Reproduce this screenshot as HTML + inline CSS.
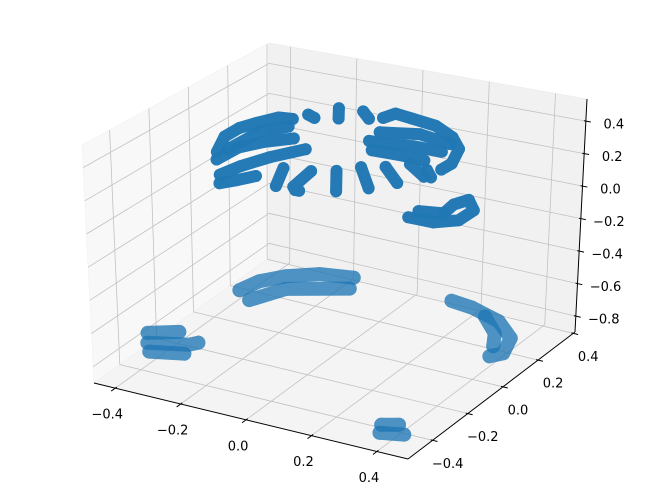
<!DOCTYPE html>
<html><head><meta charset="utf-8"><style>
html,body{margin:0;padding:0;background:#fff}
svg{display:block}
text{font-family:"DejaVu Sans","Liberation Sans",sans-serif;font-size:13px;fill:#000}
</style></head><body>
<svg id="chart" width="660" height="499" viewBox="0 0 660 499" xmlns="http://www.w3.org/2000/svg">
<rect width="660" height="499" fill="#fff"/>
<g id="panes"></g>
<g id="grid"></g>
<g id="axes"></g>
<g id="marks"></g>
</svg>
<script>
// ---- data ----
const xLim = [-0.465, 0.495];
const yLim = [-0.54, 0.41];
const zLim = [-0.898, 0.536];
const xTicks = [-0.4, -0.2, 0.0, 0.2, 0.4];
const yTicks = [-0.4, -0.2, 0.0, 0.2, 0.4];
const zTicks = [-0.8, -0.6, -0.4, -0.2, 0.0, 0.2, 0.4];
const xTickLabels = ["−0.4", "−0.2", "0.0", "0.2", "0.4"];
const yTickLabels = ["−0.4", "−0.2", "0.0", "0.2", "0.4"];
const zTickLabels = ["−0.8", "−0.6", "−0.4", "−0.2", "0.0", "0.2", "0.4"];
// point cloud, grouped into clusters (stroke ids)
const pointCluster = [
 0,0,0,0,0,0, 1,1, 2,2, 3,3, 4,4,4,4,4,4,4,4,
 5,5,5,5, 6,6,6, 7,7,7, 8,8,
 9,9,9,9, 10,10,10,10, 11,11,11, 12,12,12,
 13,13, 14,14,14,14, 15,15, 16,16, 17,17, 18,18,
 19,19,19,19,19,19,19, 20,20,
 21,21,21,21,21, 22,22,22,
 23,23, 24,24,24, 25,25,
 26,26, 27,27,
 28,28,28,28,28,28, 29,29,29
];
const pointX = [
 -0.343,-0.385,-0.385,-0.365,-0.336,-0.298, -0.280,-0.253, -0.234,-0.195, -0.166,-0.124,
 -0.095,-0.083,-0.028,0.056,0.140,0.200,0.239,0.238,
 -0.038,0.020,0.085,0.171, 0.004,0.097,0.164, -0.047,0.054,0.161, 0.206,0.244,
 -0.248,-0.234,-0.202,-0.151, -0.314,-0.311,-0.276,-0.220, -0.216,-0.191,-0.161, -0.328,-0.323,-0.278,
 -0.129,-0.077, -0.054,-0.035,-0.018,-0.006, 0.003,0.080, 0.045,0.143, 0.100,0.188, 0.145,0.225,
 0.183,0.259,0.310,0.309,0.259,0.241,0.250, 0.184,0.250,
 -0.392,-0.375,-0.330,-0.258,-0.166, -0.337,-0.288,-0.140,
 -0.465,-0.395, -0.433,-0.331,-0.316, -0.400,-0.313,
 0.367,0.408, 0.388,0.451,
 0.139,0.210,0.316,0.398,0.428,0.405, 0.268,0.345,0.382
];
const pointY = [
 -0.067,0.045,0.121,0.178,0.241,0.249, 0.298,0.284, 0.379,0.311, 0.389,0.347,
 0.371,0.416,0.404,0.386,0.330,0.260,0.154,0.101,
 0.200,0.205,0.221,0.220, 0.142,0.145,0.140, 0.271,0.309,0.282, 0.081,0.036,
 -0.215,-0.131,-0.035,0.064, -0.118,-0.010,0.057,0.121, -0.272,-0.234,-0.178, -0.035,0.120,0.193,
 -0.090,-0.219, -0.075,-0.201,-0.221,-0.221, -0.041,-0.177, 0.015,-0.116, 0.048,-0.044, 0.098,0.032,
 0.025,0.025,0.071,0.154,0.215,0.166,0.096, 0.078,0.096,
 0.123,0.202,0.267,0.325,0.351, 0.080,0.194,0.283,
 -0.247,-0.198, -0.304,-0.258,-0.234, -0.352,-0.316,
 -0.454,-0.429, -0.502,-0.479,
 0.352,0.341,0.299,0.219,0.122,0.086, 0.308,0.225,0.149
];
const pointZ = [
 0.22,0.22,0.22,0.22,0.22,0.22, 0.22,0.22, 0.22,0.22, 0.22,0.22,
 0.22,0.22,0.22,0.22,0.22,0.22,0.22,0.22,
 0.22,0.22,0.22,0.22, 0.22,0.22,0.22, 0.22,0.22,0.22, 0.22,0.22,
 0.22,0.22,0.22,0.22, 0.22,0.22,0.22,0.22, 0.22,0.22,0.22, 0.22,0.22,0.22,
 0.22,0.22, 0.22,0.22,0.22,0.22, 0.22,0.22, 0.22,0.22, 0.22,0.22, 0.22,0.22,
 -0.038,-0.038,-0.038,-0.038,-0.038,-0.038,-0.038, -0.038,-0.038,
 -0.826,-0.826,-0.826,-0.826,-0.826, -0.826,-0.826,-0.826,
 -0.826,-0.826, -0.826,-0.826,-0.826, -0.826,-0.826,
 -0.826,-0.826, -0.826,-0.826,
 -0.826,-0.826,-0.826,-0.826,-0.826,-0.826, -0.826,-0.826,-0.826
];

// ---- projection (box corners on screen) ----
const corners = {
 c000:[94,383], c100:[408,459], c010:[269,258], c110:[575,332],
 c001:[82,145], c101:[405,203], c011:[269,43], c111:[587,99]
};
function lerp(a,b,t){return [a[0]+(b[0]-a[0])*t, a[1]+(b[1]-a[1])*t];}
function proj(x,y,z){
  const u=(x-xLim[0])/(xLim[1]-xLim[0]);
  const v=(y-yLim[0])/(yLim[1]-yLim[0]);
  const w=(z-zLim[0])/(zLim[1]-zLim[0]);
  const c=corners;
  const b0=lerp(lerp(c.c000,c.c100,u),lerp(c.c010,c.c110,u),v);
  const b1=lerp(lerp(c.c001,c.c101,u),lerp(c.c011,c.c111,u),v);
  return lerp(b0,b1,w);
}
const NS="http://www.w3.org/2000/svg";
function mk(tag,attrs,parent){const e=document.createElementNS(NS,tag);for(const k in attrs)e.setAttribute(k,attrs[k]);parent.appendChild(e);return e;}
function pts(list){return list.map(p=>p[0].toFixed(1)+","+p[1].toFixed(1)).join(" ");}

// panes
const panes=document.getElementById('panes');
const X0=xLim[0],X1=xLim[1],Y0=yLim[0],Y1=yLim[1],Z0=zLim[0],Z1=zLim[1];
let el;
el=mk('polygon',{points:pts([proj(X0,Y0,Z0),proj(X0,Y1,Z0),proj(X0,Y1,Z1),proj(X0,Y0,Z1)]),fill:'#f8f8f8',stroke:'#f0f0f0','stroke-width':0.6},panes);


el=mk('polygon',{points:pts([proj(X0,Y1,Z0),proj(X1,Y1,Z0),proj(X1,Y1,Z1),proj(X0,Y1,Z1)]),fill:'#f1f1f1',stroke:'#ebebeb','stroke-width':0.6},panes);


el=mk('polygon',{points:pts([proj(X0,Y0,Z0),proj(X1,Y0,Z0),proj(X1,Y1,Z0),proj(X0,Y1,Z0)]),fill:'#f4f4f4',stroke:'#eeeeee','stroke-width':0.6},panes);



// grid
const grid=document.getElementById('grid');
const gs={stroke:'#c2c2c2','stroke-width':0.8,fill:'none'};
function gl(a,b,name){const e=mk('polyline',Object.assign({points:pts([a,b])},gs),grid);
  
  }
xTicks.forEach(t=>{gl(proj(t,Y0,Z0),proj(t,Y1,Z0),'x-grid-floor');gl(proj(t,Y1,Z0),proj(t,Y1,Z1),'x-grid-back');});
yTicks.forEach(t=>{gl(proj(X0,t,Z0),proj(X1,t,Z0),'y-grid-floor');gl(proj(X0,t,Z0),proj(X0,t,Z1),'y-grid-left');});
zTicks.forEach(t=>{gl(proj(X0,Y0,t),proj(X0,Y1,t),'z-grid-left');gl(proj(X0,Y1,t),proj(X1,Y1,t),'z-grid-back');});

// axes
const axes=document.getElementById('axes');
function axLine(a,b,name){const e=mk('polyline',{points:pts([a,b]),stroke:'#000','stroke-width':1,fill:'none'},axes);
  
  }
axLine(proj(X0,Y0,Z0),proj(X1,Y0,Z0),'x-axis-line');
axLine(proj(X1,Y0,Z0),proj(X1,Y1,Z0),'y-axis-line');
axLine(proj(X1,Y1,Z0),proj(X1,Y1,Z1),'z-axis-line');
function unit(a,b){const dx=b[0]-a[0],dy=b[1]-a[1],l=Math.hypot(dx,dy);return [dx/l,dy/l];}
function tick(p,d,name){const e=mk('line',{x1:p[0]-d[0]*2,y1:p[1]-d[1]*2,x2:p[0]+d[0]*5,y2:p[1]+d[1]*5,stroke:'#000','stroke-width':1},axes);
  
  }
function label(p,txt,name){const e=mk('text',{x:p[0],y:p[1],'text-anchor':'middle','dominant-baseline':'central'},axes);e.textContent=txt;
  
  }
xTicks.forEach((t,i)=>{const p=proj(t,Y0,Z0);const d=unit(proj(t,Y0+0.1,Z0),p);tick(p,d,'x-tick');label([p[0]-8,p[1]+27],xTickLabels[i],'x-tick-label');});
yTicks.forEach((t,i)=>{const p=proj(X1,t,Z0);const d=unit(proj(X1-0.1,t,Z0),p);tick(p,d,'y-tick');label([p[0]+15,p[1]+24],yTickLabels[i],'y-tick-label');});
zTicks.forEach((t,i)=>{const p=proj(X1,Y1,t);const d=unit(proj(X1-0.1,Y1,t),p);tick(p,d,'z-tick');label([p[0]+28,p[1]+4],zTickLabels[i],'z-tick-label');});

// marks
const marks=document.getElementById('marks');
const groups={};
pointCluster.forEach((c,i)=>{(groups[c]=groups[c]||[]).push(i);});
Object.keys(groups).forEach(c=>{
  const idx=groups[c];
  const P=idx.map(i=>proj(pointX[i],pointY[i],pointZ[i]));
  const low=pointZ[idx[0]]<-0.5;
  const g=mk('g',{opacity:low?0.78:0.97},marks);
  
  
  const sw=low?14:12;
  const e=mk('polyline',{points:pts(P),stroke:'#1f77b4','stroke-width':sw,'stroke-linecap':'round','stroke-linejoin':'round',fill:'none'},g);
  
  
  P.forEach(p=>{const d=mk('circle',{cx:p[0].toFixed(1),cy:p[1].toFixed(1),r:sw/2,fill:'#1f77b4'},g);
    
    });
});
</script>
</body></html>
